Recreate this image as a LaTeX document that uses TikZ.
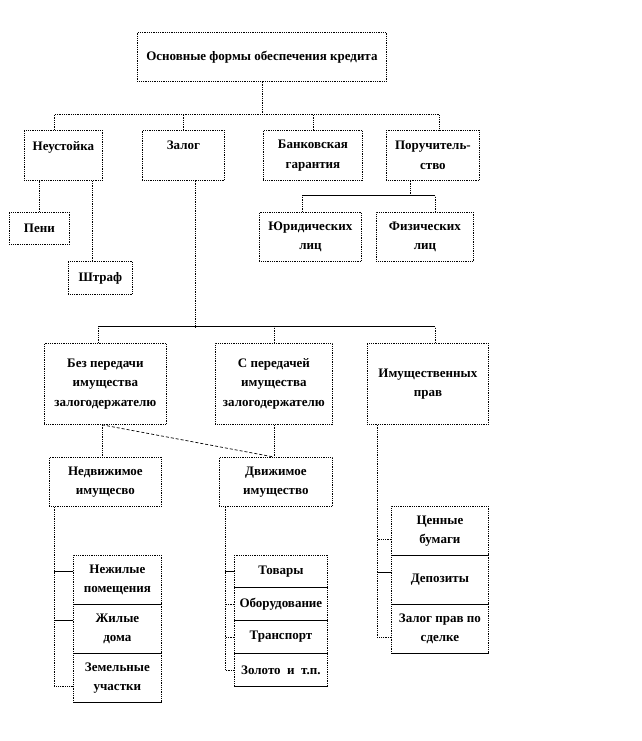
\documentclass[tikz,border=0pt]{standalone}
\usepackage{fontspec}
\setmainfont{Liberation Serif}

\begin{document}
\begin{tikzpicture}[x=1pt, y=-1pt,
    box/.style={draw, densely dotted, line width=0.8pt, anchor=north west,
                inner sep=0pt, align=center,
                font=\fontsize{13pt}{19.5pt}\selectfont\bfseries},
    sep/.style={line width=0.9pt},
    conn/.style={densely dotted, line width=0.8pt},
    link/.style={line width=0.8pt}]
\useasboundingbox (0,0) rectangle (642,741);

% top level
\node[box, minimum width=249pt, minimum height=49pt] (top) at (137,32) {Основные формы обеспечения кредита};

\node[box, minimum width=78pt, minimum height=50pt]  (neu)  at (24,130)  {Неустойка\\\mbox{}};
\node[box, minimum width=82pt, minimum height=50pt]  (zal)  at (142,130) {Залог\\\mbox{}};
\node[box, minimum width=99pt, minimum height=50pt]  (bank) at (263,130) {Банковская\\гарантия};
\node[box, minimum width=93pt, minimum height=50pt]  (por)  at (386,130) {Поручитель-\\ство};

\node[box, minimum width=60pt, minimum height=32pt]  (peni) at (9,212)   {Пени};
\node[box, minimum width=64pt, minimum height=33pt]  (shtr) at (68,261)  {Штраф};
\node[box, minimum width=102pt, minimum height=49pt] (yur)  at (259,212) {Юридических\\лиц};
\node[box, minimum width=97pt, minimum height=49pt]  (fiz)  at (376,212) {Физических\\лиц};

% kinds of pledge
\node[box, minimum width=122pt, minimum height=81pt] (bez) at (44,343)  {Без передачи\\имущества\\залогодержателю};
\node[box, minimum width=117pt, minimum height=81pt] (spe) at (215,343) {С передачей\\имущества\\залогодержателю};
\node[box, minimum width=121pt, minimum height=81pt] (imp) at (367,343) {Имущественных\\прав};

\node[box, minimum width=112pt, minimum height=49pt] (ned) at (49,457)  {Недвижимое\\имущесво};
\node[box, minimum width=113pt, minimum height=49pt] (dvi) at (219,457) {Движимое\\имущество};

% stacks
\node[box, minimum width=88pt, minimum height=49pt] (nezh) at (73,555) {Нежилые\\помещения};
\node[box, minimum width=88pt, minimum height=49pt] (zhil) at (73,604) {Жилые\\дома};
\node[box, minimum width=88pt, minimum height=49pt] (zem)  at (73,653) {Земельные\\участки};

\node[box, minimum width=93pt, minimum height=32pt] (tov) at (234,555) {Товары};
\node[box, minimum width=93pt, minimum height=33pt] (obo) at (234,587) {Оборудование};
\node[box, minimum width=93pt, minimum height=33pt] (tra) at (234,620) {Транспорт};
\node[box, minimum width=93pt, minimum height=33pt] (zol) at (234,653) {Золото~~и~~т.п.};

\node[box, minimum width=97pt, minimum height=49pt] (cen) at (391,506) {Ценные\\бумаги};
\node[box, minimum width=97pt, minimum height=49pt] (dep) at (391,555) {Депозиты};
\node[box, minimum width=97pt, minimum height=49pt] (zpr) at (391,604) {Залог прав по\\сделке};

\draw[sep] (nezh.south west) -- (nezh.south east);
\draw[sep] (zhil.south west) -- (zhil.south east);
\draw[sep] (zem.south west) -- (zem.south east);
\draw[sep] (tov.south west) -- (tov.south east);
\draw[sep] (obo.south west) -- (obo.south east);
\draw[sep] (tra.south west) -- (tra.south east);
\draw[sep] (zol.south west) -- (zol.south east);
\draw[sep] (cen.south west) -- (cen.south east);
\draw[sep] (dep.south west) -- (dep.south east);
\draw[sep] (zpr.south west) -- (zpr.south east);

% connectors
\draw[conn] (top.south) -- ++(0,33) coordinate (b1);
\draw[conn] ([xshift=30pt]neu.north west) |- (b1) -| ([xshift=-40pt]por.north east);
\draw[conn] (zal.north) -- (zal.north |- b1);
\draw[conn] (bank.north) -- (bank.north |- b1);

\draw[conn] (peni.north) -- (peni.north |- neu.south);
\draw[conn] ([xshift=24pt]shtr.north west) -- ([xshift=24pt]shtr.north west |- neu.south);

\draw[conn] ([xshift=24pt]por.south west) -- ++(0,15) coordinate (b2);
\draw[conn] ([xshift=43pt]yur.north west) -- ([xshift=43pt]yur.north west |- b2);
\draw[conn] ([xshift=59pt]fiz.north west) -- ([xshift=59pt]fiz.north west |- b2);
\draw[link] ([xshift=43pt]yur.north west |- b2) -- ([xshift=59pt]fiz.north west |- b2);

\draw[conn] ([xshift=53pt]zal.south west) -- ++(0,146) coordinate (b3);
\draw[conn] ([xshift=54pt]bez.north west) -- ([xshift=54pt]bez.north west |- b3);
\draw[conn] ([xshift=68pt]imp.north west) -- ([xshift=68pt]imp.north west |- b3);
\draw[conn] (spe.north) -- (spe.north |- b3);
\draw[link] ([xshift=54pt]bez.north west |- b3) -- ([xshift=68pt]imp.north west |- b3);

\draw[conn] ([xshift=58pt]bez.south west) -- ([xshift=53pt]ned.north west);
\draw[conn] (spe.south) -- (spe.south |- dvi.north);
\draw[densely dashed, line width=0.7pt] ([xshift=58pt]bez.south west) -- (spe.south |- dvi.north);

% spines
\draw[conn] ([xshift=5pt]ned.south west) |- ([yshift=-8.5pt]zem.west);
\draw[link] ([yshift=8.5pt]nezh.west) -- ++(-19,0);
\draw[link] ([yshift=8.5pt]zhil.west) -- ++(-19,0);

\draw[conn] ([xshift=6pt]dvi.south west) |- (zol.west);
\draw[link] (tov.west) -- ++(-9,0);
\draw[conn] (obo.west) -- ++(-9,0);
\draw[conn] (tra.west) -- ++(-9,0);

\draw[conn] ([xshift=10pt]imp.south west) |- ([yshift=-8pt]zpr.west);
\draw[conn] ([yshift=-8pt]cen.west) -- ++(-14,0);
\draw[link] ([yshift=8pt]dep.west) -- ++(-14,0);
\end{tikzpicture}
\end{document}
